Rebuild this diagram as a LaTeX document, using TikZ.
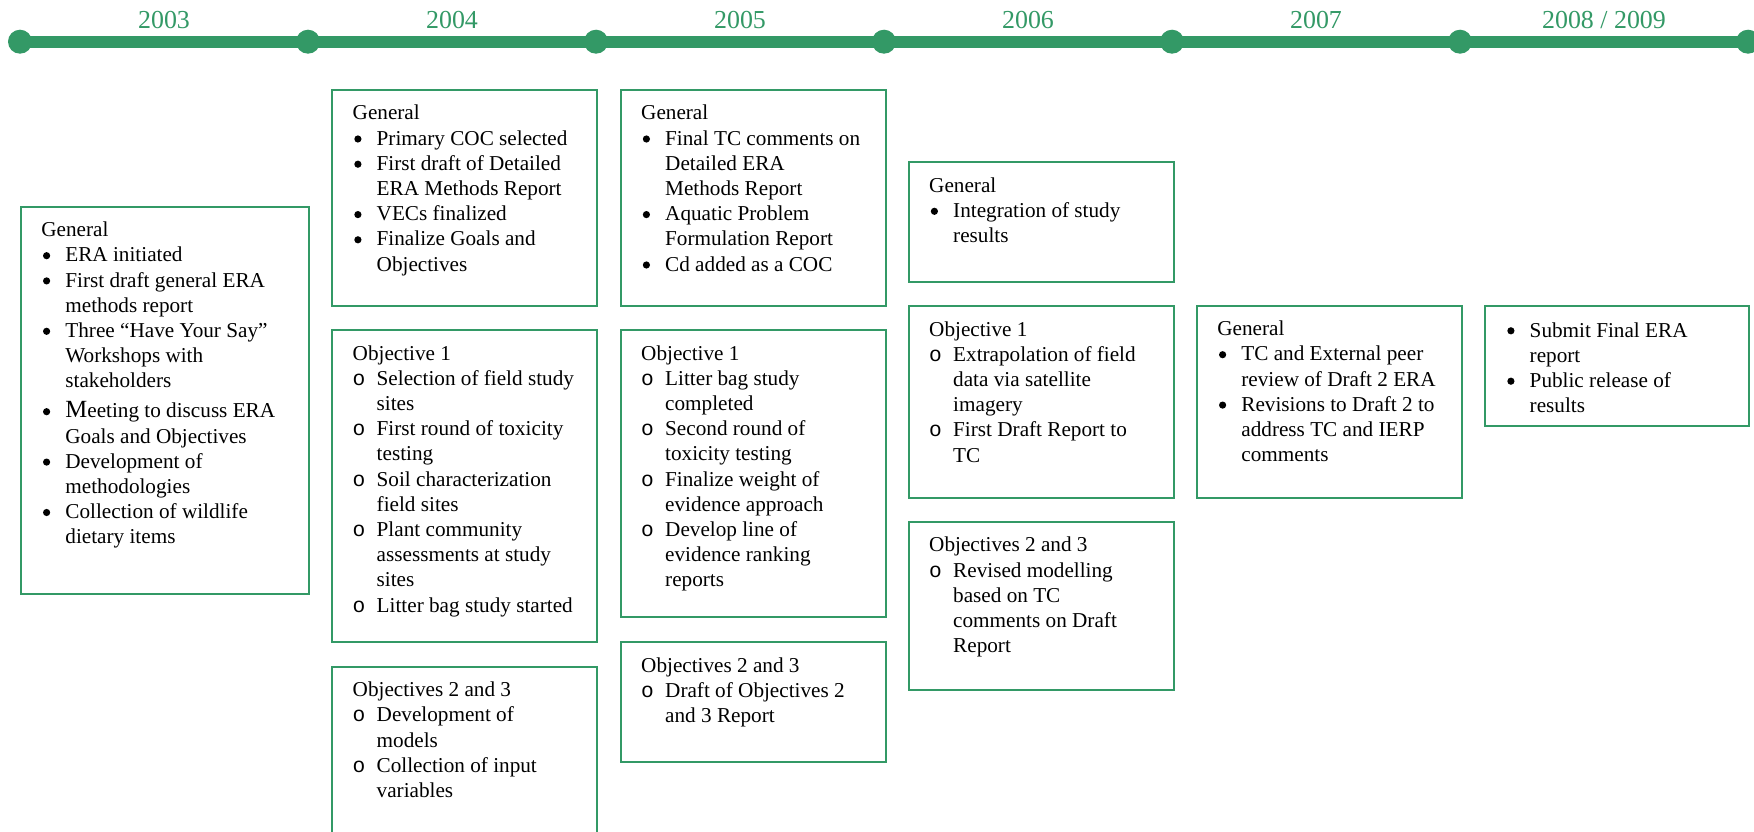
\documentclass[tikz,border=0pt]{standalone}
\usepackage{fontspec}
\setmainfont{Liberation Serif}
\newfontfamily\monof{Liberation Mono}
\usepackage{graphicx}
\definecolor{tlgreen}{RGB}{51,153,102}
\newcommand\bu{\makebox[24pt][l]{\hspace{1.6pt}\tikz[x=1pt,y=1pt,baseline=0pt]\fill[black] (3.6,6.2) circle (3.6pt);}}
\newcommand\ci{\makebox[24pt][l]{{\monof o}}}
\newcommand\ii{\hspace*{24pt}}
\newcommand\bigM{{\fontsize{24.7pt}{25.2pt}\selectfont M}}
\newcommand\tb[1]{\parbox[t]{300pt}{#1}}
\tikzset{
  boxst/.style={draw=tlgreen, line width=2pt},
  txt/.style={anchor=base west, inner sep=0pt, font=\fontsize{21.2pt}{25.2pt}\selectfont},
  yearst/.style={anchor=base, inner sep=0pt, text=tlgreen, font=\fontsize{25.9pt}{30pt}\selectfont},
  dotst/.style={circle, fill=tlgreen, minimum size=24pt, inner sep=0pt},
  linest/.style={draw=tlgreen, line width=12pt},
}
\begin{document}
\begin{tikzpicture}[x=1pt,y=-1pt]
\useasboundingbox (0,0) rectangle (1754,832);
\clip (0,0) rectangle (1754,832);
\fill[white] (0,0) rectangle (1754,832);
% timeline
\foreach \i in {0,...,6} { \coordinate (c\i) at ({20+288*\i},41.7); }
\draw[linest] (c0) -- (c6);
\foreach \i in {0,...,6} { \node[dotst] (d\i) at (c\i) {}; }
\node[yearst] (y2003) at (164,28.3) {2003};
\node[yearst] (y2004) at (452,28.3) {2004};
\node[yearst] (y2005) at (740,28.3) {2005};
\node[yearst] (y2006) at (1028,28.3) {2006};
\node[yearst] (y2007) at (1316,28.3) {2007};
\node[yearst] (y2008) at (1604,28.3) {2008 / 2009};
% boxes
\draw[boxst] (20.7,206.7) rectangle (309,594);
\draw[boxst] (332,90) rectangle (597,306);
\draw[boxst] (332,330) rectangle (597,641.7);
\draw[boxst] (332,860) -- (332,666.7) -- (597,666.7) -- (597,860);
\draw[boxst] (620.5,90) rectangle (885.5,306);
\draw[boxst] (620.5,330) rectangle (885.5,617.3);
\draw[boxst] (620.5,642.3) rectangle (885.5,761.7);
\draw[boxst] (908.5,162.3) rectangle (1173.5,281.9);
\draw[boxst] (908.5,306) rectangle (1173.5,498);
\draw[boxst] (908.5,521.8) rectangle (1173.5,689.5);
\draw[boxst] (1196.7,305.7) rectangle (1461.5,498.3);
\draw[boxst] (1485,305.7) rectangle (1749,425.7);
% texts
\node[txt] (t2003) at (41.2,236.7) {\tb{General\\
\bu ERA initiated\\
\bu First draft general ERA\\
\ii methods report\\
\bu Three “Have Your Say”\\
\ii Workshops with\\
\ii stakeholders\\[4.8pt]
\bu \bigM eeting to discuss ERA\\
\ii Goals and Objectives\\
\bu Development of\\
\ii methodologies\\
\bu Collection of wildlife\\
\ii dietary items}};
\node[txt] (t2004g) at (352.5,120) {\tb{General\\
\bu Primary COC selected\\
\bu First draft of Detailed\\
\ii ERA Methods Report\\
\bu VECs finalized\\
\bu Finalize Goals and\\
\ii Objectives}};
\node[txt] (t2004a) at (352.5,360) {\tb{Objective 1\\
\ci Selection of field study\\
\ii sites\\
\ci First round of toxicity\\
\ii testing\\
\ci Soil characterization\\
\ii field sites\\
\ci Plant community\\
\ii assessments at study\\
\ii sites\\
\ci Litter bag study started}};
\node[txt] (t2004b) at (352.5,696.7) {\tb{Objectives 2 and 3\\
\ci Development of\\
\ii models\\
\ci Collection of input\\
\ii variables}};
\node[txt] (t2005g) at (641,120) {\tb{General\\
\bu Final TC comments on\\
\ii Detailed ERA\\
\ii Methods Report\\
\bu Aquatic Problem\\
\ii Formulation Report\\
\bu Cd added as a COC}};
\node[txt] (t2005a) at (641,360) {\tb{Objective 1\\
\ci Litter bag study\\
\ii completed\\
\ci Second round of\\
\ii toxicity testing\\
\ci Finalize weight of\\
\ii evidence approach\\
\ci Develop line of\\
\ii evidence ranking\\
\ii reports}};
\node[txt] (t2005b) at (641,672.3) {\tb{Objectives 2 and 3\\
\ci Draft of Objectives 2\\
\ii and 3 Report}};
\node[txt] (t2006g) at (929,192.3) {\tb{General\\
\bu Integration of study\\
\ii results}};
\node[txt] (t2006a) at (929,336) {\tb{Objective 1\\
\ci Extrapolation of field\\
\ii data via satellite\\
\ii imagery\\
\ci First Draft Report to\\
\ii TC}};
\node[txt] (t2006b) at (929,551.8) {\tb{Objectives 2 and 3\\
\ci Revised modelling\\
\ii based on TC\\
\ii comments on Draft\\
\ii Report}};
\node[txt] (t2007) at (1217.2,335.7) {\tb{General\\
\bu TC and External peer\\
\ii review of Draft 2 ERA\\
\bu Revisions to Draft 2 to\\
\ii address TC and IERP\\
\ii comments}};
\node[txt] (t2008) at (1505.5,337) {\tb{\bu Submit Final ERA\\
\ii report\\
\bu Public release of\\
\ii results}};
\end{tikzpicture}
\end{document}
